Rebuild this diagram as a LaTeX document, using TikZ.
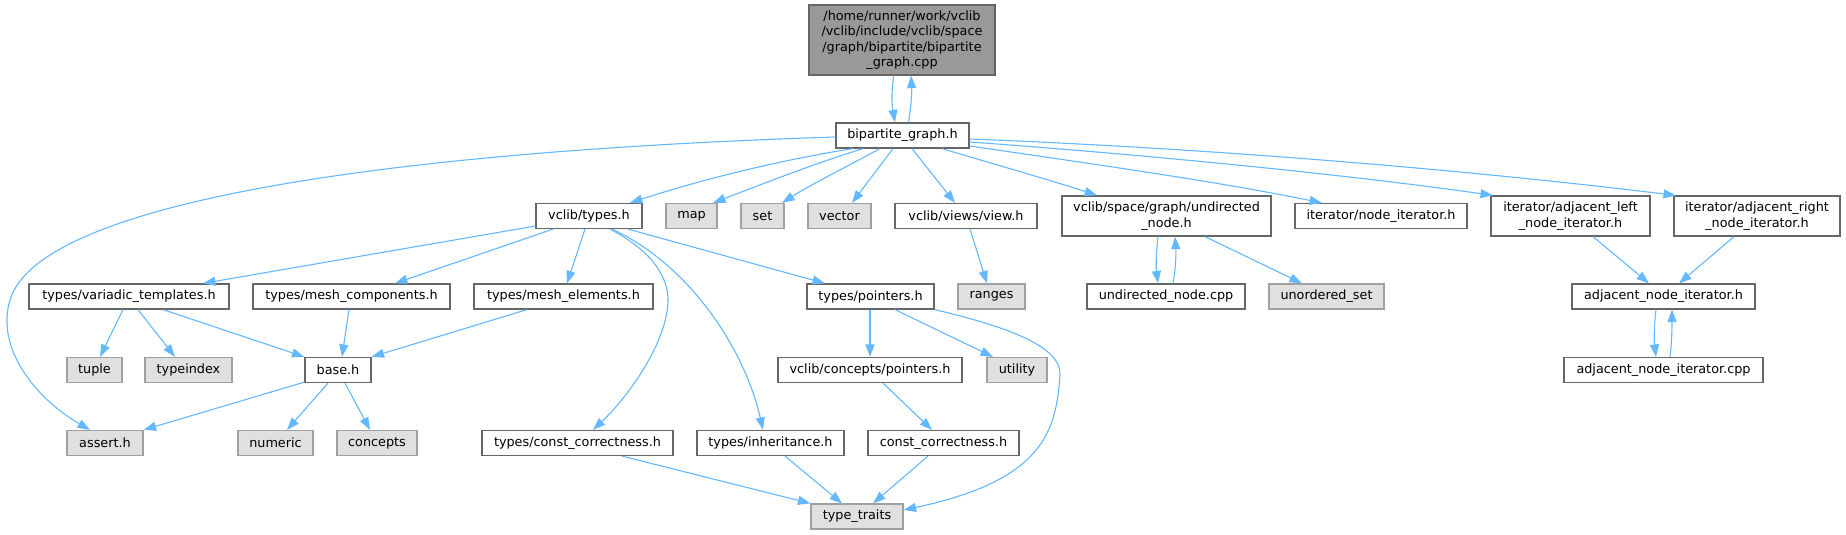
\documentclass[tikz,border=0pt]{standalone}
\usepackage{fontspec}
\setmainfont{DejaVu Sans}
\usetikzlibrary{arrows.meta}
\definecolor{edgeblue}{HTML}{63B8FF}
\definecolor{brd}{HTML}{666666}
\definecolor{extbrd}{HTML}{A0A0A0}
\definecolor{extfill}{HTML}{E0E0E0}
\definecolor{topfill}{HTML}{999999}
\tikzset{
  box/.style={draw=brd, fill=white, line width=1.2pt, inner sep=0pt, minimum height=25pt,
    font=\fontsize{12.8}{15.3}\selectfont, text=black, align=center},
  ext/.style={box, draw=extbrd, fill=extfill},
  topbox/.style={box, fill=topfill, minimum height=70pt},
  two/.style={minimum height=40pt},
  dep/.style={draw=edgeblue, line width=1.1pt, -{Triangle[length=12.5pt,width=9pt]}}
}
\begin{document}
\begin{tikzpicture}[x=1pt,y=-1pt]
\useasboundingbox (0,0) rectangle (1846,535);
% nodes
\node[topbox, minimum width=186pt] (cpp) at (902,40) {/home/runner/work/vclib\\/vclib/include/vclib/space\\/graph/bipartite/bipartite\\\_graph.cpp};
\node[box, minimum width=133pt] (bpg) at (902.5,135.5) {bipartite\_graph.h};
% row 2
\node[box, minimum width=106pt] (types) at (589,216) {vclib/types.h};
\node[ext, minimum width=51pt] (map) at (691.5,216) {map};
\node[ext, minimum width=43pt] (set) at (762.5,216) {set};
\node[ext, minimum width=63pt] (vector) at (839.5,216) {vector};
\node[box, minimum width=142pt] (view) at (966,216) {vclib/views/view.h};
\node[box, two, minimum width=209pt] (undir) at (1166.5,216) {vclib/space/graph/undirected\\\_node.h};
\node[box, minimum width=172pt] (nodeit) at (1381,216) {iterator/node\_iterator.h};
\node[box, two, minimum width=159pt] (adjl) at (1570.5,216) {iterator/adjacent\_left\\\_node\_iterator.h};
\node[box, two, minimum width=166pt] (adjr) at (1757,216) {iterator/adjacent\_right\\\_node\_iterator.h};
% row 3
\node[box, minimum width=200pt] (variadic) at (129,296.5) {types/variadic\_templates.h};
\node[box, minimum width=197pt] (meshc) at (351.5,296.5) {types/mesh\_components.h};
\node[box, minimum width=179pt] (meshe) at (563.5,296.5) {types/mesh\_elements.h};
\node[box, minimum width=127pt] (pointers) at (870.5,296.5) {types/pointers.h};
\node[ext, minimum width=67pt] (ranges) at (991.5,296.5) {ranges};
\node[box, minimum width=158pt] (undircpp) at (1166,296.5) {undirected\_node.cpp};
\node[ext, minimum width=115pt] (unord) at (1326.5,296.5) {unordered\_set};
\node[box, minimum width=183pt] (adjit) at (1663.5,296.5) {adjacent\_node\_iterator.h};
% row 4
\node[ext, minimum width=55pt] (tuple) at (94.5,370) {tuple};
\node[ext, minimum width=87pt] (typeindex) at (188.5,370) {typeindex};
\node[box, minimum width=66pt] (base) at (338,370) {base.h};
\node[box, minimum width=184pt] (cpointers) at (870,370) {vclib/concepts/pointers.h};
\node[ext, minimum width=60pt] (utility) at (1017,370) {utility};
\node[box, minimum width=199pt] (adjcpp) at (1663.5,370) {adjacent\_node\_iterator.cpp};
% row 5
\node[ext, minimum width=76pt] (assert) at (105,443) {assert.h};
\node[ext, minimum width=75pt] (numeric) at (275.5,443) {numeric};
\node[ext, minimum width=80pt] (concepts) at (377,443) {concepts};
\node[box, minimum width=191pt] (constc) at (577.5,443) {types/const\_correctness.h};
\node[box, minimum width=147pt] (inherit) at (770.5,443) {types/inheritance.h};
\node[box, minimum width=151pt] (cc) at (943.5,443) {const\_correctness.h};
% row 6
\node[ext, minimum width=92pt] (traits) at (857,516.5) {type\_traits};

% edges: top pair
\draw[dep] ([xshift=-8.3pt]cpp.south) .. controls (891,95) and (892,105) .. ([xshift=-7.5pt]bpg.north);
\draw[dep] ([xshift=6pt]bpg.north) .. controls (911,105) and (912,95) .. ([xshift=9pt]cpp.south);
% from bipartite_graph.h
\draw[dep] ([yshift=-1.5pt]bpg.west) .. controls (400,151) and (40,200) .. (10,300)
  .. controls (-4.5,348) and (35,398) .. ([xshift=-15pt]assert.north);
\draw[dep] ([xshift=-49.5pt]bpg.south) .. controls (780,160) and (700,180) .. ([xshift=41pt]types.north);
\draw[dep] ([xshift=-39.5pt]bpg.south) .. controls (810,165) and (760,185) .. ([xshift=21.5pt]map.north);
\draw[dep] ([xshift=-22.5pt]bpg.south) .. controls (850,165) and (810,185) .. ([xshift=19.5pt]set.north);
\draw[dep] ([xshift=-9.5pt]bpg.south) -- ([xshift=12.5pt]vector.north);
\draw[dep] ([xshift=9.5pt]bpg.south) -- ([xshift=-11pt]view.north);
\draw[dep] ([xshift=39.5pt]bpg.south) .. controls (990,163) and (1050,180) .. ([xshift=-69.5pt]undir.north);
\draw[dep] ([yshift=-10.5pt]bpg.east) .. controls (1100,165) and (1220,182) .. ([xshift=-59pt]nodeit.north);
\draw[dep] ([yshift=-6.5pt]bpg.east) .. controls (1150,155) and (1350,175) .. ([xshift=-77.5pt]adjl.north);
\draw[dep] ([yshift=-3.5pt]bpg.east) .. controls (1200,148) and (1450,168) .. ([xshift=-81pt]adjr.north);
% from vclib/types.h
\draw[dep] ([yshift=-10pt]types.west) -- ([xshift=74pt]variadic.north);
\draw[dep] ([xshift=-36pt]types.south) -- ([xshift=43.5pt]meshc.north);
\draw[dep] ([xshift=-4pt]types.south) -- ([xshift=3.5pt]meshe.north);
\draw[dep] ([xshift=21pt]types.south) .. controls (650,250) and (668,275) .. (668,300)
  .. controls (668,340) and (630,395) .. ([xshift=15.5pt]constc.north);
\draw[dep] ([xshift=23pt]types.south) .. controls (690,265) and (745,350) .. ([xshift=-7.5pt]inherit.north);
\draw[dep] ([xshift=39pt]types.south) -- ([xshift=-45.5pt]pointers.north);
% variadic
\draw[dep] ([xshift=-6pt]variadic.south) -- ([xshift=5.5pt]tuple.north);
\draw[dep] ([xshift=9pt]variadic.south) -- ([xshift=-13.5pt]typeindex.north);
\draw[dep] ([xshift=34pt]variadic.south) -- (base.north west);
\draw[dep] ([xshift=-2.5pt]meshc.south) -- ([xshift=4pt]base.north);
\draw[dep] ([xshift=-36.5pt]meshe.south) -- (base.north east);
% base
\draw[dep] ([yshift=1pt]base.south west) -- (assert.north east);
\draw[dep] ([xshift=-10pt]base.south) -- ([xshift=11.5pt]numeric.north);
\draw[dep] ([xshift=7pt]base.south) -- ([xshift=-7pt]concepts.north);
% pointers
\draw[dep] ([xshift=-0.5pt]pointers.south) -- (cpointers.north);
\draw[dep] ([xshift=24.5pt]pointers.south) -- ([xshift=-24pt]utility.north);
\draw[dep] (pointers.south east) .. controls (1000,325) and (1062,345) .. (1060,375)
  .. controls (1056,430) and (1045,480) .. ([yshift=6.5pt]traits.east);
\draw[dep] ([xshift=13pt]cpointers.south) -- ([xshift=-11.5pt]cc.north);
% to type_traits
\draw[dep] ([xshift=44.5pt]constc.south) -- (traits.north west);
\draw[dep] ([xshift=14.5pt]inherit.south) -- ([xshift=-15pt]traits.north);
\draw[dep] ([xshift=-15.5pt]cc.south) -- ([xshift=16pt]traits.north);
% right part
\draw[dep] ([xshift=4pt]view.south) -- ([xshift=-4.5pt]ranges.north);
\draw[dep] ([xshift=-8.5pt]undir.south) .. controls (1156,252) and (1156,268) .. ([xshift=-8pt]undircpp.north);
\draw[dep] ([xshift=7pt]undircpp.north) .. controls (1176,268) and (1176,252) .. ([xshift=8.5pt]undir.south);
\draw[dep] ([xshift=38.5pt]undir.south) -- ([xshift=-24.5pt]unord.north);
\draw[dep] ([xshift=22.5pt]adjl.south) -- ([xshift=-14.5pt]adjit.north);
\draw[dep] ([xshift=-23pt]adjr.south) -- ([xshift=15.5pt]adjit.north);
\draw[dep] ([xshift=-7.5pt]adjit.south) .. controls (1654,325) and (1654,341) .. ([xshift=-7.5pt]adjcpp.north);
\draw[dep] ([xshift=6.5pt]adjcpp.north) .. controls (1672,341) and (1672,325) .. ([xshift=8.5pt]adjit.south);
\end{tikzpicture}
\end{document}
